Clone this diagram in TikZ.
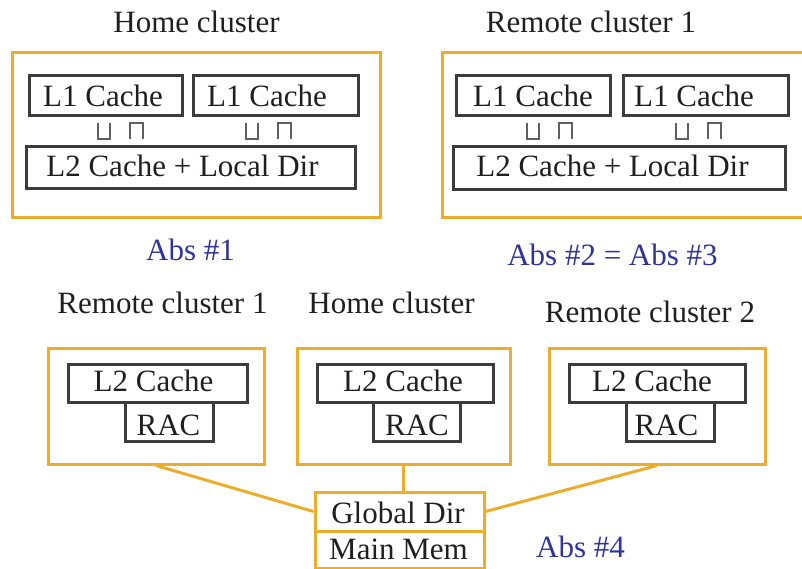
\documentclass[tikz,border=0pt]{standalone}
\usepackage{fontspec}
\setmainfont{Liberation Serif}
\definecolor{clusterorange}{RGB}{236,172,44}
\definecolor{boxgray}{RGB}{60,60,60}
\definecolor{absblue}{RGB}{48,52,150}
\definecolor{portgray}{RGB}{96,96,96}
\begin{document}
\begin{tikzpicture}[x=1pt,y=-1pt,
  txt/.style={anchor=base,inner sep=0pt,font=\fontsize{31}{36}\selectfont,text=black!88},
  abslabel/.style={txt,text=absblue},
  cluster/.style={draw=clusterorange,line width=3pt,inner sep=0pt},
  unit/.style={draw=boxgray,line width=3pt,inner sep=0pt},
  mem/.style={draw=clusterorange,line width=3pt,inner sep=0pt},
  link/.style={draw=clusterorange,line width=3pt},
  port/.style={draw=portgray,line width=2.4pt}]
\useasboundingbox (0,0) rectangle (802,569);

% generic box: name, left, top, right, bottom, style
\newcommand\boxat[6]{%
  \node[#6,minimum width={(#4-#2)*1pt},minimum height={(#5-#3)*1pt}]
    (#1) at ({(#2+#4)/2},{(#3+#5)/2}) {};}
% write-back / fill port pair
\newcommand\portpair[2]{%
  \draw[port] (#1,#2) -- (#1,#2+16) -- (#1+12,#2+16) -- (#1+12,#2);
  \draw[port] (#1+32,#2+16) -- (#1+32,#2) -- (#1+45,#2) -- (#1+45,#2+16);}

% ---------- upper row: Abs #1 ----------
\boxat{hcA}{12}{53}{380}{218}{cluster}
\boxat{hlA}{29}{76}{182}{116}{unit}
\boxat{hlB}{193}{76}{358}{116}{unit}
\boxat{hltwo}{26}{147}{355}{189}{unit}
\node[txt] (hcAt) at (196.5,33) {Home cluster};
\node[txt] (hlAt) at (103,107) {L1 Cache};
\node[txt] (hlBt) at (267,107) {L1 Cache};
\node[txt] (hltwot) at (182.5,177) {L2 Cache + Local Dir};
\portpair{98}{123}
\portpair{246}{123}
\node[abslabel] (absone) at (190.5,260) {Abs \#1};

% ---------- upper row: Abs #2 = Abs #3 ----------
\boxat{rcA}{442}{53}{815}{218}{cluster}
\boxat{rlA}{456}{76}{610}{116}{unit}
\boxat{rlB}{623}{76}{788}{116}{unit}
\boxat{rltwo}{453}{147}{785}{190}{unit}
\node[txt] (rcAt) at (591,33) {Remote cluster 1};
\node[txt] (rlAt) at (533,107) {L1 Cache};
\node[txt] (rlBt) at (694,107) {L1 Cache};
\node[txt] (rltwot) at (612.5,177) {L2 Cache + Local Dir};
\portpair{527}{123}
\portpair{676}{123}
\node[abslabel] (abstwo) at (612.5,265) {Abs \#2 = Abs \#3};

% ---------- lower row: Abs #4 ----------
\node[txt] (lct) at (162.5,313) {Remote cluster 1};
\node[txt] (mct) at (391.5,313) {Home cluster};
\node[txt] (rct) at (650,322) {Remote cluster 2};

\boxat{lc}{48}{348}{264}{464}{cluster}
\boxat{lctwo}{68}{364}{247}{402}{unit}
\boxat{lcrac}{125}{402}{213}{441}{unit}
\node[txt] (lctwot) at (153.5,391) {L2 Cache};
\node[txt] (lcract) at (168.5,435) {RAC};

\boxat{mc}{297}{348}{510}{464}{cluster}
\boxat{mctwo}{317}{364}{493}{402}{unit}
\boxat{mcrac}{373}{402}{460}{441}{unit}
\node[txt] (mctwot) at (403,391) {L2 Cache};
\node[txt] (mcract) at (417,435) {RAC};

\boxat{rc}{549}{348}{765}{464}{cluster}
\boxat{rctwo}{569}{364}{745}{402}{unit}
\boxat{rcrac}{626}{402}{714}{441}{unit}
\node[txt] (rctwot) at (652,391) {L2 Cache};
\node[txt] (rcract) at (666.5,435) {RAC};

\boxat{gd}{315}{492}{484}{531}{mem}
\boxat{mm}{315}{531}{484}{568}{mem}
\node[txt] (gdt) at (398,523) {Global Dir};
\node[txt] (mmt) at (398.5,559) {Main Mem};

\draw[link] (lc.south) -- (gd.west);
\draw[link] (rc.south) -- (gd.east);
\draw[link] (mc.south) -- (mc.south |- gd.north);

\node[abslabel] (absfour) at (580.5,557) {Abs \#4};
\end{tikzpicture}
\end{document}
